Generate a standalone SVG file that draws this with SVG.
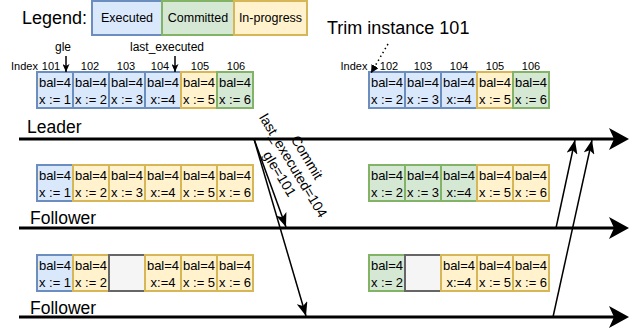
<svg xmlns="http://www.w3.org/2000/svg" width="633" height="333" viewBox="0 0 633 333">
<style>
text{font-family:"Liberation Sans",Arial,Helvetica,sans-serif;fill:#000}
.b{fill:#dae8fc;stroke:#6c8ebf;stroke-width:2}
.g{fill:#d5e8d4;stroke:#82b366;stroke-width:2}
.y{fill:#fff2cc;stroke:#d6b656;stroke-width:2}
.gr{fill:#f5f5f5;stroke:#666666;stroke-width:2}
.t{font-size:13px;text-anchor:middle}
.idx{font-size:11px;text-anchor:middle}
.lg{font-size:12.5px;text-anchor:middle}
.big{font-size:17.5px}
.lbl{font-size:12px;text-anchor:middle}
.tl{stroke:#000;stroke-width:3;fill:none}
.dl{stroke:#000;stroke-width:1.5;fill:none}
</style>
<defs>
<marker id="ab" viewBox="0 0 20 22" refX="10" refY="11" markerWidth="20" markerHeight="22" markerUnits="userSpaceOnUse" orient="auto"><path d="M0,0 L20,11 L0,22 L5,11 z" fill="#000"/></marker>
<marker id="am" viewBox="0 0 14 11" refX="14" refY="5.5" markerWidth="14" markerHeight="11" markerUnits="userSpaceOnUse" orient="auto"><path d="M0,0 L14,5.5 L0,11 L3.5,5.5 z" fill="#000"/></marker>
<marker id="as" viewBox="0 0 8 7" refX="8" refY="3.5" markerWidth="8" markerHeight="7" markerUnits="userSpaceOnUse" orient="auto"><path d="M0,0 L8,3.5 L0,7 L2,3.5 z" fill="#000"/></marker>
<marker id="ad" viewBox="0 0 8 8" refX="8" refY="4" markerWidth="8" markerHeight="8" markerUnits="userSpaceOnUse" orient="auto"><path d="M0,0 L8,4 L0,8 z" fill="#000"/></marker>
</defs>

<g id="legend">
<text x="22" y="24" style="font-size:18px">Legend:</text>
<rect class="b" x="92" y="1" width="70" height="34"/><text class="lg" x="127" y="22">Executed</text>
<rect class="g" x="162" y="1" width="72" height="34"/><text class="lg" x="198" y="22">Committed</text>
<rect class="y" x="234" y="1" width="73" height="34"/><text class="lg" x="270.5" y="22">In-progress</text>
</g>

<g id="trim-label"><text x="327" y="34" style="font-size:18px">Trim instance 101</text></g>

<g id="labels-left">
<text class="lbl" x="63" y="51">gle</text>
<text class="lbl" x="167" y="51">last_executed</text>
<text class="idx" x="24.5" y="70">Index</text>
<text class="idx" x="51" y="70">101</text>
<text class="idx" x="90" y="70">102</text>
<text class="idx" x="126" y="70">103</text>
<text class="idx" x="160" y="70">104</text>
<text class="idx" x="200" y="70">105</text>
<text class="idx" x="236" y="70">106</text>
</g>
<g id="labels-right">
<text class="idx" x="354" y="70">Index</text>
<text class="idx" x="389" y="70">102</text>
<text class="idx" x="423" y="70">103</text>
<text class="idx" x="459" y="70">104</text>
<text class="idx" x="495" y="70">105</text>
<text class="idx" x="531" y="70">106</text>
</g>

<g id="leader-log-left">
<rect class="b" x="37" y="72" width="36" height="36"/><text class="t" x="55" y="86.5">bal=4</text><text class="t" x="55" y="103.5">x := 1</text>
<rect class="b" x="73" y="72" width="36" height="36"/><text class="t" x="91" y="86.5">bal=4</text><text class="t" x="91" y="103.5">x := 2</text>
<rect class="b" x="109" y="72" width="36" height="36"/><text class="t" x="127" y="86.5">bal=4</text><text class="t" x="127" y="103.5">x := 3</text>
<rect class="b" x="145" y="72" width="36" height="36"/><text class="t" x="163" y="86.5">bal=4</text><text class="t" x="163" y="103.5">x:=4</text>
<rect class="y" x="181" y="72" width="36" height="36"/><text class="t" x="199" y="86.5">bal=4</text><text class="t" x="199" y="103.5">x := 5</text>
<rect class="g" x="217" y="72" width="36" height="36"/><text class="t" x="235" y="86.5">bal=4</text><text class="t" x="235" y="103.5">x := 6</text>
</g>
<g id="leader-log-right">
<rect class="b" x="369" y="72" width="36" height="36"/><text class="t" x="387" y="86.5">bal=4</text><text class="t" x="387" y="103.5">x := 2</text>
<rect class="b" x="405" y="72" width="36" height="36"/><text class="t" x="423" y="86.5">bal=4</text><text class="t" x="423" y="103.5">x := 3</text>
<rect class="b" x="441" y="72" width="36" height="36"/><text class="t" x="459" y="86.5">bal=4</text><text class="t" x="459" y="103.5">x:=4</text>
<rect class="y" x="477" y="72" width="36" height="36"/><text class="t" x="495" y="86.5">bal=4</text><text class="t" x="495" y="103.5">x := 5</text>
<rect class="g" x="513" y="72" width="36" height="36"/><text class="t" x="531" y="86.5">bal=4</text><text class="t" x="531" y="103.5">x := 6</text>
</g>

<g id="follower1-log-left">
<rect class="b" x="37" y="165" width="36" height="36"/><text class="t" x="55" y="179.5">bal=4</text><text class="t" x="55" y="196.5">x := 1</text>
<rect class="y" x="73" y="165" width="36" height="36"/><text class="t" x="91" y="179.5">bal=4</text><text class="t" x="91" y="196.5">x := 2</text>
<rect class="y" x="109" y="165" width="36" height="36"/><text class="t" x="127" y="179.5">bal=4</text><text class="t" x="127" y="196.5">x := 3</text>
<rect class="y" x="145" y="165" width="36" height="36"/><text class="t" x="163" y="179.5">bal=4</text><text class="t" x="163" y="196.5">x:=4</text>
<rect class="y" x="181" y="165" width="36" height="36"/><text class="t" x="199" y="179.5">bal=4</text><text class="t" x="199" y="196.5">x := 5</text>
<rect class="y" x="217" y="165" width="36" height="36"/><text class="t" x="235" y="179.5">bal=4</text><text class="t" x="235" y="196.5">x := 6</text>
</g>
<g id="follower1-log-right">
<rect class="g" x="369" y="165" width="36" height="36"/><text class="t" x="387" y="179.5">bal=4</text><text class="t" x="387" y="196.5">x := 2</text>
<rect class="g" x="405" y="165" width="36" height="36"/><text class="t" x="423" y="179.5">bal=4</text><text class="t" x="423" y="196.5">x := 3</text>
<rect class="g" x="441" y="165" width="36" height="36"/><text class="t" x="459" y="179.5">bal=4</text><text class="t" x="459" y="196.5">x:=4</text>
<rect class="y" x="477" y="165" width="36" height="36"/><text class="t" x="495" y="179.5">bal=4</text><text class="t" x="495" y="196.5">x := 5</text>
<rect class="y" x="513" y="165" width="36" height="36"/><text class="t" x="531" y="179.5">bal=4</text><text class="t" x="531" y="196.5">x := 6</text>
</g>

<g id="follower2-log-left">
<rect class="b" x="37" y="255" width="36" height="36"/><text class="t" x="55" y="269.5">bal=4</text><text class="t" x="55" y="286.5">x := 1</text>
<rect class="y" x="73" y="255" width="36" height="36"/><text class="t" x="91" y="269.5">bal=4</text><text class="t" x="91" y="286.5">x := 2</text>
<rect class="gr" x="109" y="255" width="36" height="36"/>
<rect class="y" x="145" y="255" width="36" height="36"/><text class="t" x="163" y="269.5">bal=4</text><text class="t" x="163" y="286.5">x:=4</text>
<rect class="y" x="181" y="255" width="36" height="36"/><text class="t" x="199" y="269.5">bal=4</text><text class="t" x="199" y="286.5">x := 5</text>
<rect class="y" x="217" y="255" width="36" height="36"/><text class="t" x="235" y="269.5">bal=4</text><text class="t" x="235" y="286.5">x := 6</text>
</g>
<g id="follower2-log-right">
<rect class="g" x="369" y="255" width="36" height="36"/><text class="t" x="387" y="269.5">bal=4</text><text class="t" x="387" y="286.5">x := 2</text>
<rect class="gr" x="405" y="255" width="36" height="36"/>
<rect class="y" x="441" y="255" width="36" height="36"/><text class="t" x="459" y="269.5">bal=4</text><text class="t" x="459" y="286.5">x:=4</text>
<rect class="y" x="477" y="255" width="36" height="36"/><text class="t" x="495" y="269.5">bal=4</text><text class="t" x="495" y="286.5">x := 5</text>
<rect class="y" x="513" y="255" width="36" height="36"/><text class="t" x="531" y="269.5">bal=4</text><text class="t" x="531" y="286.5">x := 6</text>
</g>

<g id="leader"><text class="big" x="27" y="133">Leader</text></g>
<g id="follower1"><text class="big" x="30" y="224">Follower</text></g>
<g id="follower2"><text class="big" x="30" y="314">Follower</text></g>

<g id="connectors">
<line class="tl" x1="19" y1="139" x2="619" y2="139" marker-end="url(#ab)"/>
<line class="tl" x1="19" y1="228" x2="619" y2="228" marker-end="url(#ab)"/>
<line class="tl" x1="19" y1="317" x2="619" y2="317" marker-end="url(#ab)"/>
<line class="dl" x1="254" y1="139" x2="286" y2="227" marker-end="url(#am)"/>
<line class="dl" x1="254" y1="139" x2="306" y2="316" marker-end="url(#am)"/>
<line class="dl" x1="556" y1="228" x2="575" y2="140" marker-end="url(#am)"/>
<line class="dl" x1="553" y1="317" x2="592" y2="140" marker-end="url(#am)"/>
<line class="dl" x1="66" y1="56" x2="66" y2="72" marker-end="url(#as)"/>
<line class="dl" x1="175" y1="56" x2="175" y2="72" marker-end="url(#as)"/>
<line x1="388" y1="44" x2="371" y2="73" stroke="#000" stroke-width="1.5" stroke-dasharray="1.5,3" marker-end="url(#ad)"/>
<g transform="translate(293.5,165.5) rotate(59)" style="font-size:14px">
<text x="0" y="-11" text-anchor="middle">Commit</text>
<text x="0" y="5" text-anchor="middle">last_executed=104</text>
<text x="0" y="21" text-anchor="middle">gle=101</text>
</g>
</g>
</svg>
